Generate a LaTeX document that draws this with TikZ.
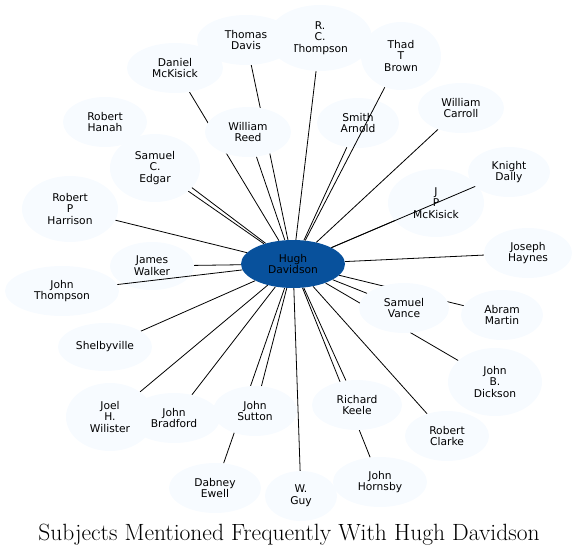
\documentclass[tikz,border=0pt]{standalone}
\usepackage{fontspec}
\usepackage{xcolor}
\usepackage{tikz}
\usetikzlibrary{shapes.geometric, backgrounds}
\newfontfamily\subjfont{DejaVu Sans}
\definecolor{subjfill}{HTML}{F7FBFF}
\definecolor{hughblue}{HTML}{08519C}
\tikzset{
  subj/.style={ellipse, fill=subjfill, draw=none, inner sep=0pt, align=center,
               minimum height=50pt, font=\subjfont\fontsize{10.7}{11.7}\selectfont},
  tie/.style={draw=black, line width=0.8pt}
}
\begin{document}
\begin{tikzpicture}[x=1pt, y=-1pt]
  \useasboundingbox (0,0) rectangle (578,557);
  % Centre
  \node[subj, fill=hughblue, minimum width=104pt, minimum height=48pt] (hd) at (293,264) {Hugh\\Davidson};
  % Top row
  \node[subj, minimum width=104pt, minimum height=66pt] (rct) at (320,38) {R.\\C.\\Thompson};
  \node[subj, minimum width=98pt] (td) at (246,40) {Thomas\\Davis};
  \node[subj, minimum width=80pt, minimum height=68pt] (ttb) at (401,56) {Thad\\T\\Brown};
  \node[subj, minimum width=96pt] (dmk) at (175,68) {Daniel\\McKisick};
  \node[subj, minimum width=86pt] (wc) at (461,108) {William\\Carroll};
  \node[subj, minimum width=84pt] (rh) at (105,122) {Robert\\Hanah};
  \node[subj, minimum width=86pt] (wr) at (248,132) {William\\Reed};
  \node[subj, minimum width=82pt] (sa) at (358,123) {Smith\\Arnold};
  \node[subj, minimum width=82pt] (kd) at (509,172) {Knight\\Dally};
  \node[subj, minimum width=90pt, minimum height=68pt] (sce) at (155,168) {Samuel\\C.\\Edgar};
  \node[subj, minimum width=96pt, minimum height=68pt] (jpm) at (436,203) {J\\P\\McKisick};
  % Middle row
  \node[subj, minimum width=96pt, minimum height=66pt] (rph) at (70,209) {Robert\\P\\Harrison};
  \node[subj, minimum width=88pt] (jh) at (528,253) {Joseph\\Haynes};
  \node[subj, minimum width=84pt, minimum height=48pt] (jw) at (152,266) {James\\Walker};
  \node[subj, minimum width=114pt] (jt) at (62,291) {John\\Thompson};
  \node[subj, minimum width=90pt] (sv) at (404,308) {Samuel\\Vance};
  \node[subj, minimum width=82pt] (am) at (502,315) {Abram\\Martin};
  \node[subj, minimum width=94pt, minimum height=48pt] (sh) at (105,347) {Shelbyville};
  \node[subj, minimum width=94pt, minimum height=68pt] (jbd) at (495,382) {John\\B.\\Dickson};
  % Bottom row
  \node[subj, minimum width=88pt, minimum height=68pt] (jhw) at (110,417) {Joel\\H.\\Wilister};
  \node[subj, minimum width=92pt] (jb) at (174,418) {John\\Bradford};
  \node[subj, minimum width=84pt] (js) at (255,411) {John\\Sutton};
  \node[subj, minimum width=90pt] (rk) at (357,405) {Richard\\Keele};
  \node[subj, minimum width=84pt] (rc) at (447,436) {Robert\\Clarke};
  \node[subj, minimum width=92pt] (de) at (215,488) {Dabney\\Ewell};
  \node[subj, minimum width=72pt] (wg) at (301,496) {W.\\Guy};
  \node[subj, minimum width=94pt] (jhb) at (380,482) {John\\Hornsby};
  % Ties behind the nodes
  \begin{scope}[on background layer]
    \foreach \n in {rct, td, dmk, wc, rh, wr, sa, sce, jpm, rph, jh, jw, sv, am,
                    sh, jbd, jhw, jb, js, rk, rc, de, wg, jhb}
      \draw[tie] (hd) -- (\n);
  \end{scope}
  % Ties crossing Smith Arnold, J P McKisick and James Walker
  \draw[tie] (hd) -- (ttb);
  \draw[tie] (hd) -- (kd);
  \draw[tie] (hd) -- (jt);
  % Title
  \node[font=\fontsize{23.5}{28}\selectfont] (title) at (289,535) {Subjects Mentioned Frequently With Hugh Davidson};
\end{tikzpicture}
\end{document}
